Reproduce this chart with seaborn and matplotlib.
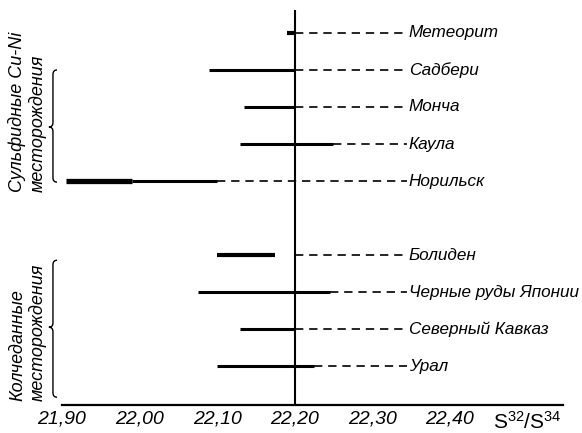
import matplotlib
matplotlib.use("Agg")
import matplotlib.pyplot as plt
import matplotlib.transforms as mtransforms
from matplotlib.path import Path
from matplotlib.patches import PathPatch
import seaborn as sns
import pandas as pd

# ---------------- data ----------------
names = ["Метеорит", "Садбери", "Монча", "Каула", "Норильск",
         "Болиден", "Черные руды Японии", "Северный Кавказ", "Урал"]
rows = [0, 1, 2, 3, 4, 6, 7, 8, 9]
lo = [22.19, 22.09, 22.135, 22.13, 21.99, 22.10, 22.075, 22.13, 22.10]
hi = [22.20, 22.20, 22.20, 22.25, 22.10, 22.175, 22.245, 22.20, 22.225]
weight = ["bold", "normal", "normal", "normal", "normal",
          "bold", "normal", "normal", "normal"]
# extra heavy part of the Норильск range
extra_lo = [21.905]
extra_hi = [21.99]
extra_row = [4]
dash_from = [22.20, 22.20, 22.20, 22.25, 22.10, 22.20, 22.245, 22.20, 22.225]
dash_to = 22.345
ref_value = 22.20
xticks = [21.90, 22.00, 22.10, 22.20, 22.30, 22.40, 22.50]
xticklabels = ["21,90", "22,00", "22,10", "22,20", "22,30", "22,40",
               r"$\mathregular{S^{32}/S^{34}}$"]
groups = [("Сульфидные Cu-Ni", "месторождения"),
          ("Колчеданные", "месторождения")]

# ---------------- style ----------------
sns.set_style("white")
plt.rcParams["font.family"] = ["Liberation Sans", "DejaVu Sans"]
plt.rcParams["text.color"] = "black"
plt.rcParams["xtick.color"] = "black"

fig = plt.figure(figsize=(5.82, 4.33), dpi=100)
ax = fig.add_axes([62 / 582, (433 - 405) / 433, (563 - 62) / 582, (405 - 10) / 433])

# range bars
seg_rows = []
sid = 0
for a, b, r, w in zip(lo, hi, rows, weight):
    seg_rows.append(dict(seg=sid, x=a, y=r, w=w))
    seg_rows.append(dict(seg=sid, x=b, y=r, w=w))
    sid += 1
for a, b, r in zip(extra_lo, extra_hi, extra_row):
    seg_rows.append(dict(seg=sid, x=a, y=r, w="heavy"))
    seg_rows.append(dict(seg=sid, x=b, y=r, w="heavy"))
    sid += 1
df = pd.DataFrame(seg_rows)
sns.lineplot(data=df, x="x", y="y", units="seg", estimator=None, size="w",
             sizes={"normal": 2.2, "bold": 3.0, "heavy": 3.8},
             color="black", legend=False, ax=ax, solid_capstyle="butt")

# dashed leaders
dash_rows = []
for i, (a, r) in enumerate(zip(dash_from, rows)):
    dash_rows.append(dict(seg=i, x=a, y=r))
    dash_rows.append(dict(seg=i, x=dash_to, y=r))
ddf = pd.DataFrame(dash_rows)
sns.lineplot(data=ddf, x="x", y="y", units="seg", estimator=None,
             color="black", lw=1.2, linestyle=(0, (5, 3.5)), legend=False, ax=ax)

ax.axvline(ref_value, color="black", lw=1.5)

for n, r in zip(names, rows):
    ax.text(dash_to + 0.002, r, n, va="center", ha="left", fontsize=12.3,
            fontstyle="italic", color="black", clip_on=False)

ax.set_xlim(21.90, 22.546)
ax.set_ylim(10.05, -0.62)
ax.set_xticks(xticks)
ax.set_xticklabels(xticklabels)
for i, t in enumerate(ax.get_xticklabels()):
    if i < len(xticks) - 1:
        t.set_fontstyle("italic")
        t.set_fontsize(14)
    else:
        t.set_fontsize(15)
ax.set_yticks([])
ax.set_xlabel("")
ax.set_ylabel("")
ax.tick_params(axis="x", direction="in", length=5, width=1, pad=4, colors="black")
for s in ["left", "top", "right"]:
    ax.spines[s].set_visible(False)
ax.spines["bottom"].set_linewidth(1.6)
ax.spines["bottom"].set_color("black")

# braces and group labels
btr = mtransforms.blended_transform_factory(fig.transFigure, ax.transData)


def brace(x, y0, y1, ym, dx=0.007, dy=0.12):
    verts = [(x + dx, y0), (x, y0), (x, y0 + dy),
             (x, ym - dy), (x, ym), (x - dx, ym),
             (x, ym), (x, ym + dy),
             (x, y1 - dy), (x, y1), (x + dx, y1)]
    codes = [Path.MOVETO, Path.CURVE3, Path.CURVE3,
             Path.LINETO, Path.CURVE3, Path.CURVE3,
             Path.CURVE3, Path.CURVE3,
             Path.LINETO, Path.CURVE3, Path.CURVE3]
    p = PathPatch(Path(verts, codes), transform=btr, fill=False,
                  edgecolor="black", lw=1.0, clip_on=False)
    fig.add_artist(p)


brace(0.091, 1.0, 4.03, 2.54)
brace(0.091, 6.14, 9.84, 7.95)

for (l1, l2), ybot in zip(groups, [4.3, 9.95]):
    fig.text(0.030, ybot, l1, transform=btr, rotation=90, ha="center",
             va="bottom", fontsize=13, fontstyle="italic", color="black")
    fig.text(0.064, ybot, l2, transform=btr, rotation=90, ha="center",
             va="bottom", fontsize=13, fontstyle="italic", color="black")

fig.savefig("out.png", dpi=100)
